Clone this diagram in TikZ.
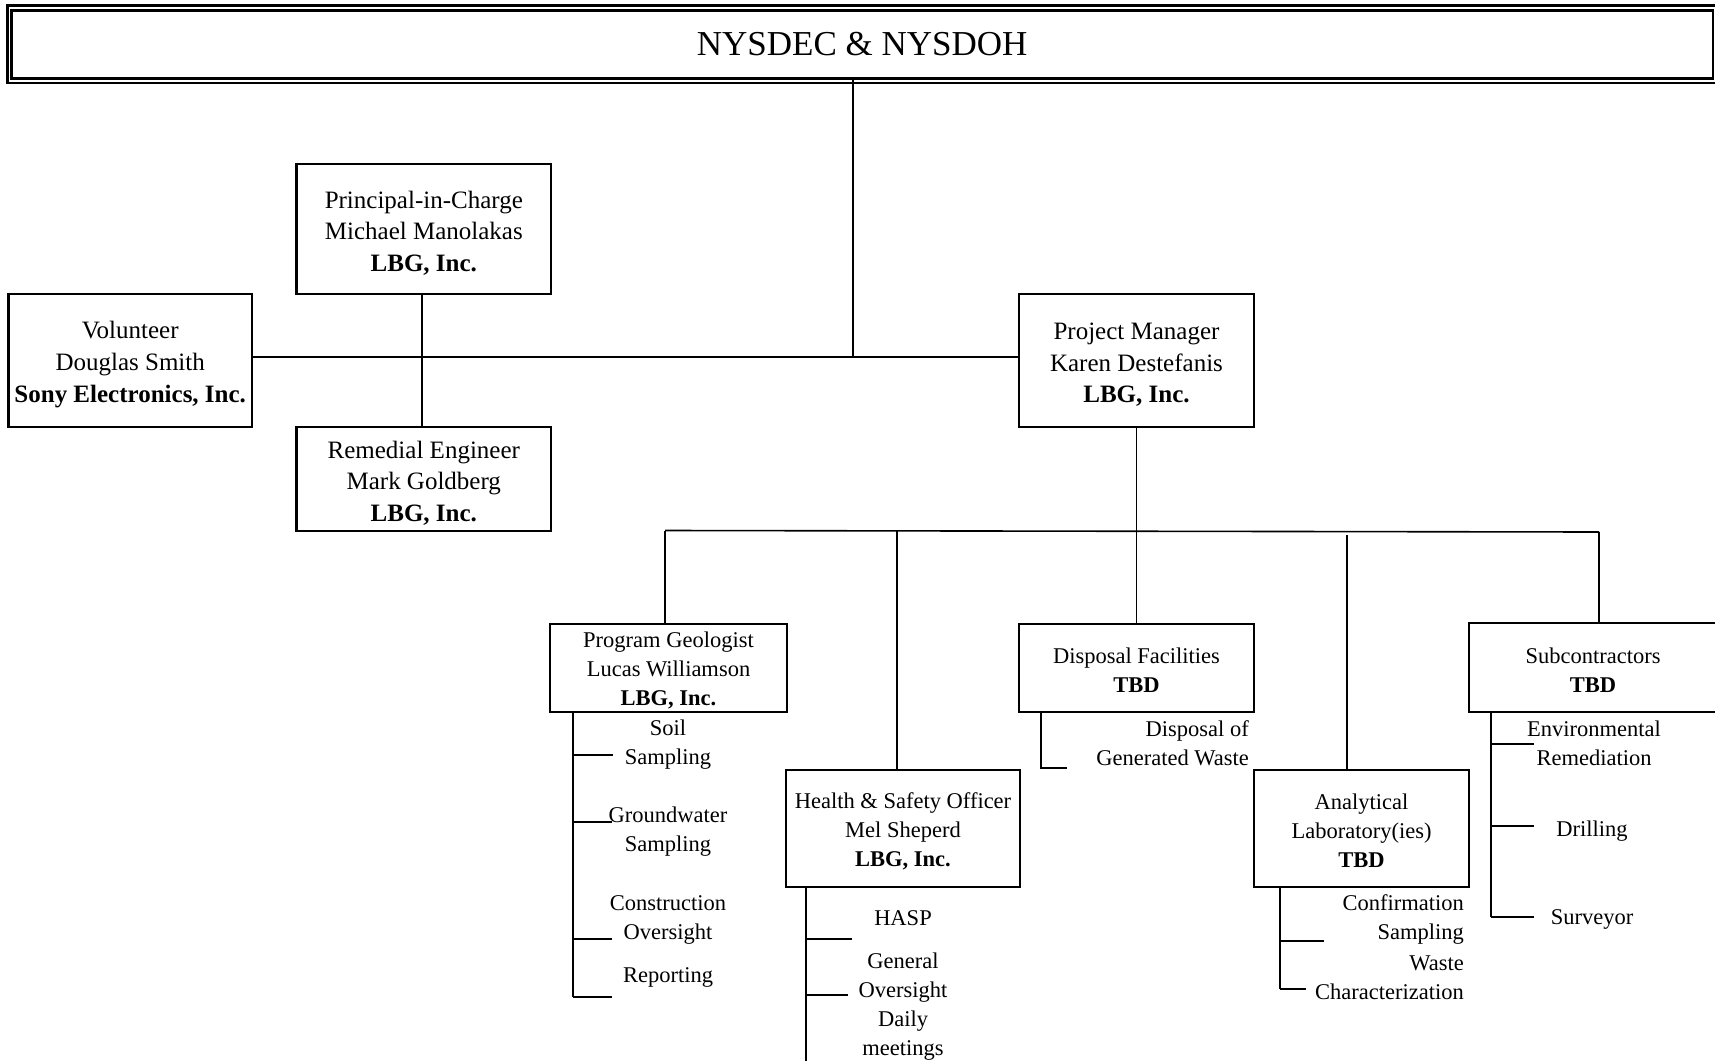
\documentclass[tikz,border=0pt]{standalone}
\usepackage{fontspec}
\setmainfont{Liberation Serif}
\newcommand\fA{\fontsize{25}{31.7}\selectfont}
\newcommand\fB{\fontsize{22.5}{29}\selectfont}
\newcommand\fT{\fontsize{35}{40}\selectfont}
\newcommand\ra{\rule{0pt}{25.3pt}}
\newcommand\rb{\rule{0pt}{20.9pt}}
\tikzset{
  box/.style={draw, line width=2.7pt, align=center, inner sep=0pt},
  boxA/.style={box, font=\fA},
  boxB/.style={box, font=\fB},
  conn/.style={line width=1.6pt},
  item/.style={align=center, inner sep=0pt, font=\fB},
  itemr/.style={align=right, inner sep=0pt, font=\fB, anchor=east},
}
\begin{document}
\begin{tikzpicture}[x=1pt,y=-1pt]
\useasboundingbox (0,0) rectangle (1715,1060);
\fill[white] (0,0) rectangle (1715,1060);
% title box (double frame)
\draw[line width=2.7pt] (7.3,5.7) rectangle (1725,83);
\node[box, font=\fT, minimum width=1701.7pt, minimum height=68pt] (top) at (862.15,44.2) {NYSDEC \& NYSDOH};

% upper boxes
\node[boxA, minimum width=254.4pt, minimum height=130pt] (pc) at (423.8,229) {\ra Principal-in-Charge\\Michael Manolakas\\\textbf{LBG, Inc.}};
\node[boxA, minimum width=243.6pt, minimum height=133pt] (vol) at (130.2,360.5) {\ra Volunteer\\Douglas Smith\\\textbf{Sony Electronics, Inc.}};
\node[boxA, minimum width=254.4pt, minimum height=104pt] (re) at (423.8,479) {\ra Remedial Engineer\\Mark Goldberg\\\textbf{LBG, Inc.}};
\node[boxA, minimum width=235pt, minimum height=133pt] (pm) at (1136.5,360.5) {\ra Project Manager\\Karen Destefanis\\\textbf{LBG, Inc.}};

% lower boxes
\node[boxB, minimum width=237pt, minimum height=88pt] (pg) at (668.5,668) {\rb Program Geologist\\Lucas Williamson\\\textbf{LBG, Inc.}};
\node[boxB, minimum width=234pt, minimum height=117pt] (hs) at (903,828.5) {\rb Health \& Safety Officer\\Mel Sheperd\\\textbf{LBG, Inc.}};
\node[boxB, minimum width=235pt, minimum height=88pt] (dp) at (1136.5,668) {\rb Disposal Facilities\\\textbf{TBD}};
\node[boxB, minimum width=215pt, minimum height=117pt] (an) at (1361.5,828.5) {\rb Analytical\\Laboratory(ies)\\\textbf{TBD}};
\node[boxB, minimum width=248pt, minimum height=89pt] (sub) at (1593,667.5) {\rb Subcontractors\\\textbf{TBD}};

% upper connectors
\coordinate (hub) at (853,357);
\draw[conn] (top.south -| hub) -- (hub);
\draw[conn] (vol.east |- hub) -- (pm.west |- hub);
\draw[conn] ([xshift=-2pt]pc.south) -- ([xshift=-2pt]re.north);
\draw[conn] (pm.south) -- (dp.north);

% bus
\coordinate (busL) at (665,530.5);
\coordinate (busR) at (1599,532);
\coordinate (busHS) at (897,530.8);
\coordinate (anTop) at (1347,535);
\draw[conn] (busL) -- (busR);
\draw[conn] (busL) -- (busL |- pg.north);
\draw[conn] (busHS) -- (busHS |- hs.north);
\draw[conn] (anTop) -- (anTop |- an.north);
\draw[conn] (busR) -- (busR |- sub.north);

% Program Geologist items
\coordinate (pgv) at (573,997);
\draw[conn] (pg.south -| pgv) -- (pgv);
\coordinate (pgt1) at (613,755);
\coordinate (pgt2) at (612,822);
\coordinate (pgt3) at (612,939);
\coordinate (pgt4) at (612,997);
\draw[conn] (pgv |- pgt1) -- (pgt1);
\draw[conn] (pgv |- pgt2) -- (pgt2);
\draw[conn] (pgv |- pgt3) -- (pgt3);
\draw[conn] (pgv |- pgt4) -- (pgt4);
\node[item] (pgi1) at (668,744.5) {Soil\\Sampling};
\node[item] (pgi2) at (668,831.5) {Groundwater\\Sampling};
\node[item] (pgi3) at (668,919.5) {Construction\\Oversight};
\node[item] (pgi4) at (668,977) {Reporting};

% Health & Safety items
\coordinate (hsv) at (806,1065);
\draw[conn] (hs.south -| hsv) -- (hsv);
\coordinate (hst1) at (852,939);
\coordinate (hst2) at (848,995);
\draw[conn] (hsv |- hst1) -- (hst1);
\draw[conn] (hsv |- hst2) -- (hst2);
\node[item] (hsi1) at (903,918) {HASP};
\node[item] (hsi2) at (903,977.5) {General\\Oversight};
\node[item] (hsi3) at (903,1035.5) {Daily\\meetings};

% Disposal items
\coordinate (dpv) at (1041,768);
\coordinate (dpt) at (1067,768);
\draw[conn] (dp.south -| dpv) -- (dpv) -- (dpt);
\node[itemr] (dpi) at (1249,743.5) {Disposal of\\Generated Waste};

% Analytical items
\coordinate (anv) at (1280,989);
\coordinate (ant1) at (1324,941);
\coordinate (ant2) at (1306,989);
\draw[conn] (an.south -| anv) -- (anv);
\draw[conn] (anv |- ant1) -- (ant1);
\draw[conn] (anv |- ant2) -- (ant2);
\node[itemr] (ani1) at (1464,919.5) {Confirmation\\Sampling};
\node[itemr] (ani2) at (1464,977.5) {Waste\\Characterization};

% Subcontractor items
\coordinate (subv) at (1491,917);
\coordinate (subt1) at (1534,744);
\coordinate (subt2) at (1534,826);
\coordinate (subt3) at (1534,917);
\draw[conn] (sub.south -| subv) -- (subv);
\draw[conn] (subv |- subt1) -- (subt1);
\draw[conn] (subv |- subt2) -- (subt2);
\draw[conn] (subv |- subt3) -- (subt3);
\node[item] (subi1) at (1594,743.5) {Environmental\\Remediation};
\node[item] (subi2) at (1592,831.5) {Drilling};
\node[item] (subi3) at (1592,919) {Surveyor};
\end{tikzpicture}
\end{document}
